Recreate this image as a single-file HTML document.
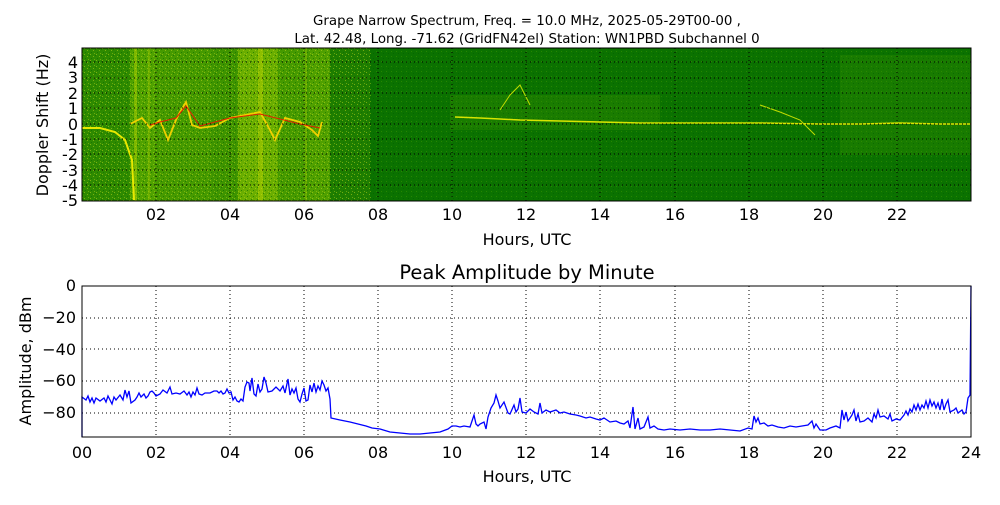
<!DOCTYPE html>
<html><head><meta charset="utf-8"><style>
body{margin:0;background:#fff;width:1000px;height:500px;overflow:hidden}
svg{font-family:"DejaVu Sans","Liberation Sans",sans-serif}
</style></head><body>
<svg width="1000" height="500" viewBox="0 0 1000 500">
<defs>
<pattern id="noise" width="6" height="6" patternUnits="userSpaceOnUse">
<rect x="0" y="0" width="1" height="1" fill="#c8dc20" opacity=".5"/>
<rect x="3" y="2" width="1" height="1" fill="#c8dc20" opacity=".5"/>
<rect x="1" y="4" width="1" height="1" fill="#0a6a00" opacity=".6"/>
<rect x="4" y="5" width="1" height="1" fill="#c8dc20" opacity=".4"/>
<rect x="5" y="1" width="1" height="1" fill="#0a6a00" opacity=".6"/>
</pattern>
<pattern id="noise2" width="5" height="5" patternUnits="userSpaceOnUse">
<rect x="1" y="1" width="1" height="1" fill="#3a9400" opacity=".6"/>
<rect x="3" y="3" width="1" height="1" fill="#005a00" opacity=".5"/>
</pattern>
</defs>
<text x="527" y="25" font-size="13.4" text-anchor="middle">Grape Narrow Spectrum, Freq. = 10.0 MHz, 2025-05-29T00-00 ,</text>
<text x="527" y="43" font-size="13.4" text-anchor="middle">Lat.  42.48, Long. -71.62 (GridFN42el) Station: WN1PBD Subchannel 0</text>
<g>
<rect x="82" y="48" width="889" height="153" fill="#0b7200"/>
<rect x="82" y="48" width="48" height="153" fill="#2e8a00"/>
<rect x="130" y="48" width="26" height="153" fill="#50a200"/>
<rect x="156" y="48" width="56" height="153" fill="#469a00"/>
<rect x="212" y="48" width="26" height="153" fill="#3e9400"/>
<rect x="238" y="48" width="40" height="153" fill="#6aae00"/>
<rect x="278" y="48" width="32" height="153" fill="#469a00"/>
<rect x="310" y="48" width="20" height="153" fill="#50a000"/>
<rect x="330" y="48" width="40" height="153" fill="#1e7e00"/>
<rect x="450" y="95" width="210" height="35" fill="#2a8600" opacity=".5"/>
<rect x="840" y="55" width="131" height="100" fill="#268400" opacity=".5"/>
<rect x="82" y="48" width="290" height="153" fill="url(#noise)"/>
<rect x="372" y="48" width="599" height="153" fill="url(#noise2)"/>
<rect x="134" y="48" width="3" height="153" fill="#c0d800" opacity=".4"/>
<rect x="148" y="48" width="2" height="153" fill="#b0d000" opacity=".35"/>
<rect x="258" y="48" width="5" height="153" fill="#d0e000" opacity=".35"/>
<rect x="305" y="48" width="2" height="153" fill="#b0d000" opacity=".35"/>
<polyline fill="none" stroke="#e8e800" stroke-width="2" points="82,128 100,128 115,132 125,140 132,160 134,200"/>
<polyline fill="none" stroke="#f0d000" stroke-width="1.8" points="130,124 142,118 150,128 160,120 168,140 176,120 180,112 186,102 192,125 200,128 215,126 230,118 245,115 260,112 270,130 275,140 285,118 300,122 312,130 318,136 322,122"/>
<polyline fill="none" stroke="#e02000" stroke-width="1" points="150,125 160,122 176,118 186,106 200,126 230,118 260,114 300,124 320,128"/>
<polyline fill="none" stroke="#d8e400" stroke-width="1.5" points="455,117 480,118 500,119 520,120 560,121 600,122 640,123 700,123 760,123 820,124 860,124 900,123 940,124 971,124"/>
<polyline fill="none" stroke="#c0dc00" stroke-width="1" points="760,105 780,112 800,120 815,135"/>
<polyline fill="none" stroke="#c0dc00" stroke-width="1" points="500,110 510,95 520,85 530,105"/>
</g>
<g stroke="#000" stroke-width="1" stroke-dasharray="1,3" fill="none">
<path d="M156 48V201M230 48V201M304 48V201M378 48V201M452 48V201M526 48V201M600 48V201M675 48V201M749 48V201M823 48V201M897 48V201"/>
<path d="M82 62H971M82 78H971M82 93H971M82 108H971M82 124H971M82 139H971M82 154H971M82 170H971M82 185H971"/>
</g>
<rect x="82" y="48" width="889" height="153" fill="none" stroke="#000"/>
<g font-size="16" text-anchor="end">
<text x="78" y="68">4</text><text x="78" y="83">3</text><text x="78" y="99">2</text><text x="78" y="114">1</text><text x="78" y="130">0</text><text x="78" y="145">-1</text><text x="78" y="160">-2</text><text x="78" y="176">-3</text><text x="78" y="191">-4</text><text x="78" y="206">-5</text>
</g>
<g font-size="16" text-anchor="middle">
<text x="156" y="220">02</text><text x="230" y="220">04</text><text x="304" y="220">06</text><text x="378" y="220">08</text><text x="452" y="220">10</text><text x="526" y="220">12</text><text x="600" y="220">14</text><text x="675" y="220">16</text><text x="749" y="220">18</text><text x="823" y="220">20</text><text x="897" y="220">22</text>
<text x="527" y="245">Hours, UTC</text>
<text x="527" y="279" font-size="19.5">Peak Amplitude by Minute</text>
<text x="527" y="482">Hours, UTC</text>
</g>
<text transform="translate(48,125) rotate(-90)" font-size="16" text-anchor="middle">Doppler Shift (Hz)</text>
<text transform="translate(31,361) rotate(-90)" font-size="16" text-anchor="middle">Amplitude, dBm</text>
<g stroke="#000" stroke-width="1" stroke-dasharray="1,3" fill="none">
<path d="M156 286V437M230 286V437M304 286V437M378 286V437M452 286V437M526 286V437M600 286V437M675 286V437M749 286V437M823 286V437M897 286V437"/>
<path d="M82 318H971M82 349H971M82 381H971M82 413H971"/>
</g>
<polyline fill="none" stroke="#0000ff" stroke-width="1.3" points="82,437 82,397 86,400 88,396 90,402 92,398 94,403 96,398 100,401 104,398 106,402 108,396 110,400 112,404 114,397 116,400 120,395 123,400 125,390 127,397 129,391 131,403 135,400 137,397 139,393 141,397 144,394 146,398 148,396 150,392 152,391 154,393 156,396 160,394 163,390 167,393 170,387 172,394 176,393 180,394 184,391 187,395 189,392 191,397 193,392 195,395 197,388 199,394 202,395 205,393 210,393 214,391 217,391 219,393 221,391 223,394 225,393 227,389 229,393 231,392 233,400 235,397 237,401 239,402 241,399 243,401 245,387 247,382 249,383 250,391 252,378 254,394 256,396 258,384 260,392 262,389 264,377 266,383 268,392 272,391 276,387 280,391 283,386 285,393 288,379 290,395 292,389 294,393 296,388 298,399 300,402 302,394 304,388 306,401 308,400 310,385 312,392 314,383 316,392 318,386 320,390 322,381 324,385 326,391 328,388 330,399 331,418 340,420 350,422 358,424 366,426 372,428 380,429 390,432 400,433 410,434 420,434 430,433 440,432 448,429 452,426 456,426 460,427 464,426 470,427 474,415 476,424 478,426 480,424 484,422 486,429 488,417 491,408 494,403 496,395 498,401 500,408 504,402 508,413 510,414 514,405 516,412 518,409 520,398 522,412 526,413 530,409 534,412 538,414 540,403 542,413 546,410 550,412 556,410 560,413 564,412 570,414 576,415 580,416 586,418 590,417 596,419 600,420 604,418 610,422 616,421 620,423 624,424 628,421 630,428 633,407 635,429 638,418 640,429 644,427 648,417 650,428 654,426 658,429 664,430 670,429 680,430 690,429 700,430 710,430 720,429 730,430 740,431 748,428 752,429 754,416 756,422 758,418 760,424 764,423 768,426 772,425 778,427 784,428 790,426 796,427 802,426 808,425 812,421 814,428 816,424 818,427 820,430 826,430 830,428 836,426 840,428 842,410 844,420 846,412 848,421 850,418 852,415 854,410 856,421 858,414 860,422 864,421 868,418 872,422 874,414 876,418 878,410 880,417 884,416 888,419 890,414 892,421 896,419 900,420 904,415 906,411 908,415 910,409 912,412 914,405 916,410 918,404 920,410 922,405 924,408 926,401 928,408 930,400 932,406 934,402 936,408 938,403 940,410 942,399 944,410 946,404 948,400 950,412 954,410 956,408 958,413 962,410 964,414 966,412 968,398 970,395 971,286"/>
<rect x="82" y="286" width="889" height="151" fill="none" stroke="#000"/>
<g font-size="16" text-anchor="end">
<text x="76" y="291">0</text><text x="76" y="323">−20</text><text x="76" y="355">−40</text><text x="76" y="386">−60</text><text x="76" y="418">−80</text>
</g>
<g font-size="16" text-anchor="middle">
<text x="82" y="458">00</text><text x="156" y="458">02</text><text x="230" y="458">04</text><text x="304" y="458">06</text><text x="378" y="458">08</text><text x="452" y="458">10</text><text x="526" y="458">12</text><text x="600" y="458">14</text><text x="675" y="458">16</text><text x="749" y="458">18</text><text x="823" y="458">20</text><text x="897" y="458">22</text><text x="971" y="458">24</text>
</g>
</svg>
</body></html>
